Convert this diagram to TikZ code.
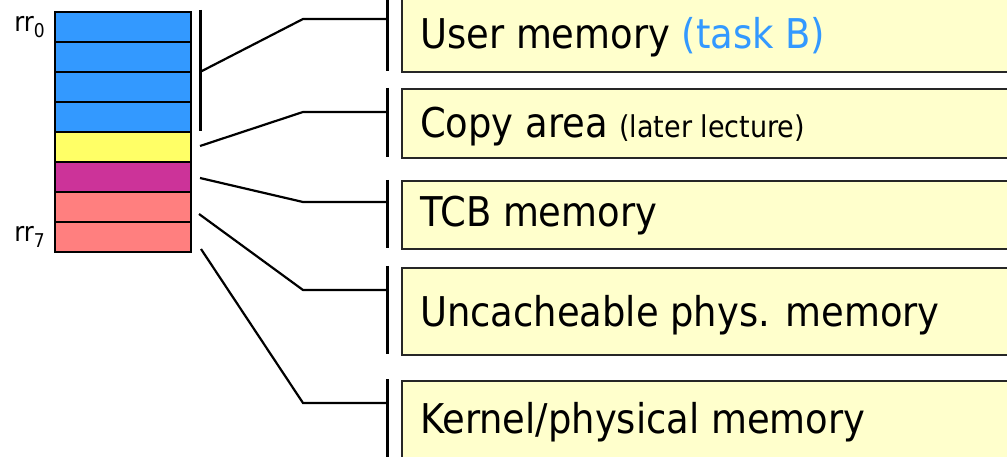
\documentclass[tikz,border=0pt]{standalone}
\usepackage{fontspec}
\setmainfont{DejaVu Sans Condensed}
\definecolor{regblue}{HTML}{3399FF}
\definecolor{regyellow}{HTML}{FFFF66}
\definecolor{regmagenta}{HTML}{CC3399}
\definecolor{regsalmon}{HTML}{FF7F7F}
\definecolor{boxfill}{HTML}{FFFFCC}
\definecolor{taskblue}{HTML}{3399FF}
\tikzset{
  reg/.style={draw=black, line width=2pt, minimum width=136pt, minimum height=30pt, inner sep=0pt, anchor=north west},
  areabox/.style={draw=black!85, line width=2pt, fill=boxfill, inner sep=0pt, anchor=north west, minimum width=640pt},
  bracket/.style={line width=3pt},
  link/.style={line width=2.2pt},
  boxtext/.style={anchor=base west, inner sep=0pt, font=\fontsize{41}{41}\selectfont},
  reglabel/.style={anchor=base east, inner sep=0pt, font=\fontsize{27}{27}\selectfont},
}
\newcommand{\regsub}[1]{\raisebox{-6pt}{\fontsize{19}{19}\selectfont #1}}
\begin{document}
\begin{tikzpicture}[x=1pt,y=-1pt]
  \clip (0,0) rectangle (1007,457);
  \fill[white] (0,0) rectangle (1007,457);

  % register stack rr0 .. rr7
  \node[reg, fill=regblue]    (r0) at (54,11)  {};
  \node[reg, fill=regblue]    (r1) at (54,41)  {};
  \node[reg, fill=regblue]    (r2) at (54,71)  {};
  \node[reg, fill=regblue]    (r3) at (54,101) {};
  \node[reg, fill=regyellow]  (r4) at (54,131) {};
  \node[reg, fill=regmagenta] (r5) at (54,161) {};
  \node[reg, fill=regsalmon]  (r6) at (54,191) {};
  \node[reg, fill=regsalmon]  (r7) at (54,221) {};

  \node[reglabel] (l0) at (45,32)  {rr\regsub{0}};
  \node[reglabel] (l7) at (45,242) {rr\regsub{7}};

  % memory areas
  \node[areabox, minimum height=91pt] (b0) at (401,-20) {};
  \node[areabox, minimum height=69pt] (b1) at (401,88)  {};
  \node[areabox, minimum height=68pt] (b2) at (401,180) {};
  \node[areabox, minimum height=87pt] (b3) at (401,267) {};
  \node[areabox, minimum height=100pt] (b4) at (401,380) {};

  \node[boxtext] (t0) at (420,49)  {User memory \textcolor{taskblue}{(task B)}};
  \node[boxtext] (t1) at (420,138) {Copy area {\fontsize{30}{30}\selectfont (later lecture)}};
  \node[boxtext] (t2) at (420,227) {TCB memory};
  \node[boxtext] (t3) at (420,326) {Uncacheable phys. memory};
  \node[boxtext] (t4) at (420,433) {Kernel/physical memory};

  % bracket beside the four user registers
  \draw[bracket] (200,10) -- (200,131);

  % brackets in front of the areas
  \draw[bracket] (387,-5)  -- (387,71);
  \draw[bracket] (387,88)  -- (387,157);
  \draw[bracket] (387,180) -- (387,248);
  \draw[bracket] (387,266) -- (387,354);
  \draw[bracket] (387,379) -- (387,462);

  % link end points
  \coordinate (s0) at (200,72);
  \coordinate (s1) at (200,146);
  \coordinate (s2) at (200,178);
  \coordinate (s3) at (199,214);
  \coordinate (s4) at (201,249);
  \coordinate (e0) at (387,19);
  \coordinate (e1) at (387,112);
  \coordinate (e2) at (387,202);
  \coordinate (e3) at (387,290);
  \coordinate (e4) at (387,403);

  \draw[link] (s0) -- (303,19)  -- (e0);
  \draw[link] (s1) -- (303,112) -- (e1);
  \draw[link] (s2) -- (303,202) -- (e2);
  \draw[link] (s3) -- (303,290) -- (e3);
  \draw[link] (s4) -- (303,403) -- (e4);
\end{tikzpicture}
\end{document}
